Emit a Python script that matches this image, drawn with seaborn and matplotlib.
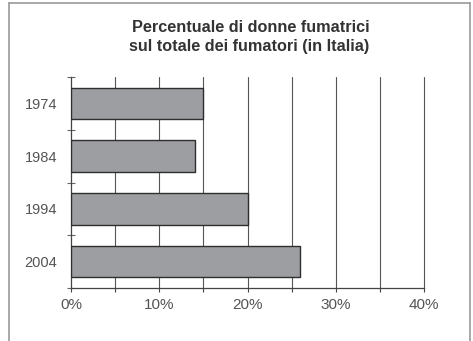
import matplotlib
matplotlib.use("Agg")
import matplotlib.pyplot as plt
import seaborn as sns
import pandas as pd
import numpy as np
from matplotlib.ticker import FuncFormatter, MultipleLocator, FixedLocator

years = ["1974", "1984", "1994", "2004"]
percent = [15, 14, 20, 26]
x_ticks = [0, 10, 20, 30, 40]

df = pd.DataFrame({"anno": years, "percentuale": percent})

sns.set_style("white")
plt.rcParams["font.family"] = ["Liberation Sans", "DejaVu Sans"]

fig = plt.figure(figsize=(4.73, 3.41), dpi=100)
ax = fig.add_axes([71 / 473, 1 - 288 / 341, (424 - 71) / 473, (288 - 77) / 341])

sns.barplot(data=df, x="percentuale", y="anno", orient="h", color="#9d9ea1",
            saturation=1, width=0.6, edgecolor="#2e2e2e", linewidth=1.0, ax=ax,
            zorder=3)

ax.set_xlim(0, 40)
ax.set_ylim(3.5, -0.5)
ax.xaxis.set_major_locator(FixedLocator(x_ticks))
ax.xaxis.set_minor_locator(MultipleLocator(5))
ax.xaxis.set_major_formatter(FuncFormatter(lambda v, p: f"{v:.0f}%"))
ax.set_axisbelow(True)

# vertical grid every 5%, kept unclipped so the 40% line shows at the edge
for gx in np.arange(5, 41, 5):
    ax.axvline(gx, color="#555555", linewidth=0.8, zorder=0, clip_on=False)

for side in ("top", "right"):
    ax.spines[side].set_visible(False)
for side in ("left", "bottom"):
    ax.spines[side].set_color("#444444")
    ax.spines[side].set_linewidth(0.9)

ax.tick_params(axis="x", which="both", direction="out", length=3, width=0.8,
               color="#444444", labelsize=11, labelcolor="#555555", pad=4,
               bottom=True)
ax.tick_params(axis="y", which="major", length=0, labelsize=10.5,
               labelcolor="#555555", pad=10)
ax.yaxis.set_minor_locator(FixedLocator(np.arange(-0.5, 4.0, 1.0)))
ax.tick_params(axis="y", which="minor", direction="inout", length=6, width=0.8,
               color="#666666", left=True)
ax.set_xlabel("")
ax.set_ylabel("")

fig.text(251 / 473, 1 - 28 / 341, "Percentuale di donne fumatrici",
         ha="center", va="center", fontsize=11.7, fontweight="bold", color="#333333")
fig.text(249 / 473, 1 - 47 / 341, "sul totale dei fumatori (in Italia)",
         ha="center", va="center", fontsize=11.7, fontweight="bold", color="#333333")

# frame around the figure
frame_kw = dict(color="#999999", linewidth=1.2, transform=fig.transFigure)
fig.add_artist(plt.Line2D([9 / 473, 9 / 473], [0, 1 - 3 / 341], **frame_kw))
fig.add_artist(plt.Line2D([9 / 473, 470 / 473], [1 - 3 / 341, 1 - 3 / 341], **frame_kw))
fig.add_artist(plt.Line2D([470 / 473, 470 / 473], [0, 1 - 3 / 341], **frame_kw))

fig.savefig("out.png", dpi=100)
